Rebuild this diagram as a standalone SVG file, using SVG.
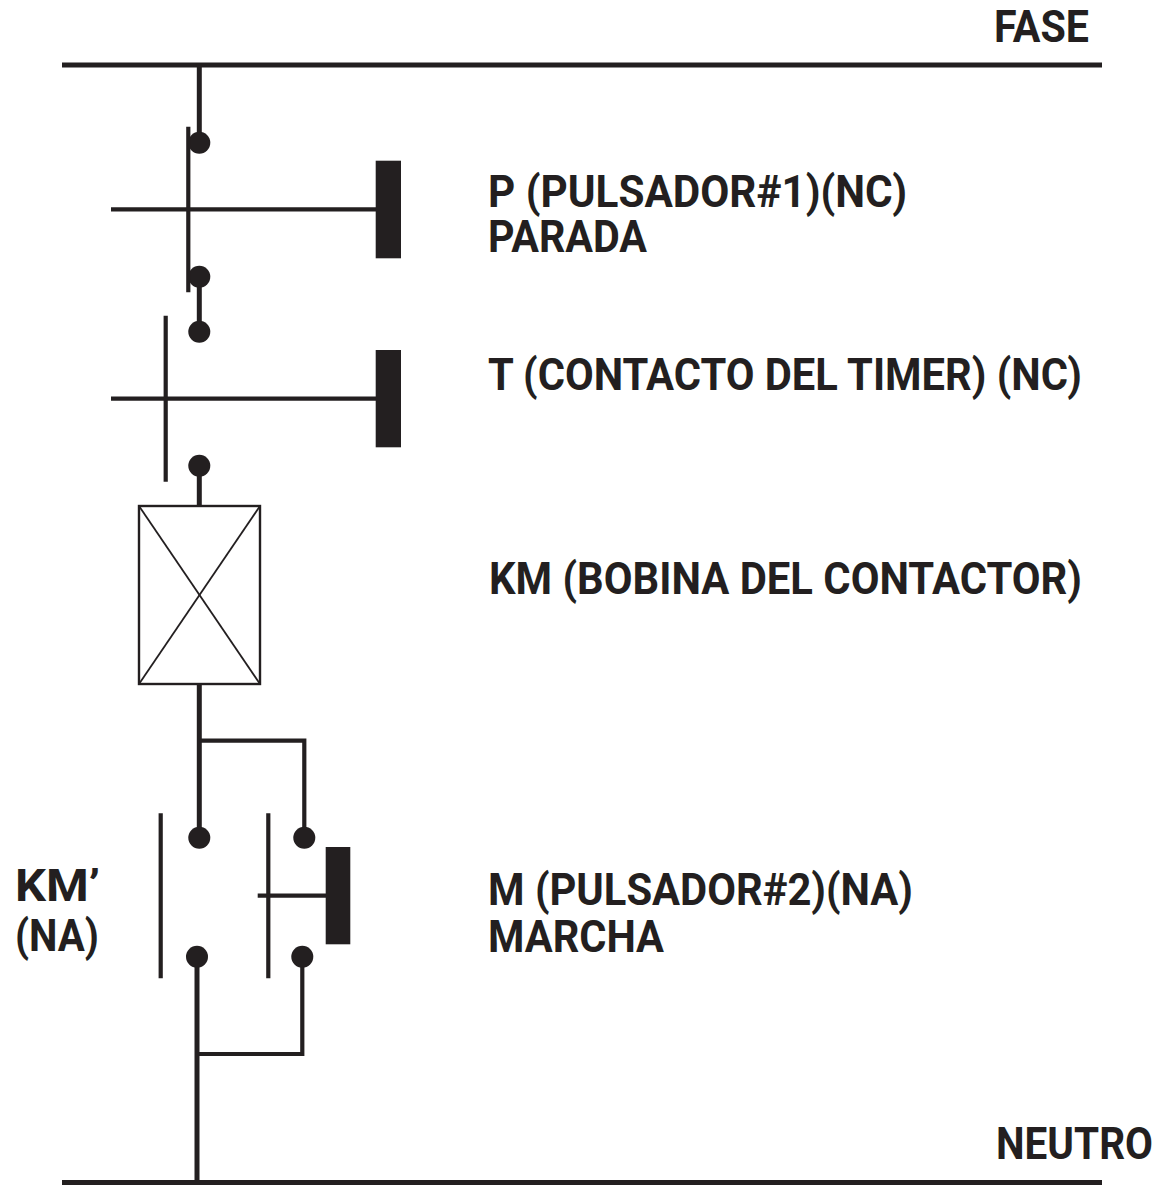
<svg xmlns="http://www.w3.org/2000/svg" width="1164" height="1185" viewBox="0 0 1164 1185">
<style>
.w{stroke:#231f20;stroke-width:5;fill:none;stroke-linecap:butt}
.t{stroke:#231f20;stroke-width:4.2;fill:none}
.d{fill:#231f20}
.lbl{font-family:Roboto,"Liberation Sans",sans-serif;font-weight:bold;font-size:44px;fill:#231f20}
</style>
<rect width="1164" height="1185" fill="#fff"/>
<g id="fase">
<line class="w" x1="62" y1="65" x2="1102" y2="65"/>
<text class="lbl" x="994" y="42" textLength="95" lengthAdjust="spacingAndGlyphs">FASE</text>
</g>
<g id="neutro">
<line class="w" x1="62" y1="1182.5" x2="1102" y2="1182.5"/>
<text class="lbl" x="996" y="1159" textLength="157" lengthAdjust="spacingAndGlyphs">NEUTRO</text>
</g>
<g id="connectors">
<line class="w" x1="199.3" y1="63" x2="199.3" y2="143"/>
<line class="w" x1="199.3" y1="277" x2="199.3" y2="332"/>
<line class="w" x1="199.3" y1="466" x2="199.3" y2="507"/>
<line class="w" x1="199.3" y1="683" x2="199.3" y2="838"/>
<polyline class="t" points="199.3,740.7 304.3,740.7 304.3,838"/>
<line class="w" x1="197" y1="957" x2="197" y2="1181"/>
<polyline class="t" points="197,1054 302.3,1054 302.3,957"/>
</g>
<g id="P">
<circle class="d" cx="199.3" cy="142.7" r="11"/>
<circle class="d" cx="199.3" cy="276.7" r="11"/>
<line class="t" x1="188.3" y1="126.7" x2="188.3" y2="292.3" stroke-width="4.7"/>
<line class="t" x1="111" y1="209.3" x2="377" y2="209.3"/>
<rect class="d" x="375.7" y="160.7" width="25.3" height="97.6"/>
<text class="lbl" x="488" y="207" textLength="419" lengthAdjust="spacingAndGlyphs">P (PULSADOR#1)(NC)</text>
<text class="lbl" x="488" y="252" textLength="159" lengthAdjust="spacingAndGlyphs">PARADA</text>
</g>
<g id="T">
<circle class="d" cx="199.3" cy="331.7" r="11"/>
<circle class="d" cx="199.3" cy="465.7" r="11"/>
<line class="t" x1="165.7" y1="315.7" x2="165.7" y2="481.7" stroke-width="4.7"/>
<line class="t" x1="111" y1="398.7" x2="377" y2="398.7"/>
<rect class="d" x="375.7" y="350" width="25.3" height="97.3"/>
<text class="lbl" x="488" y="390" textLength="594" lengthAdjust="spacingAndGlyphs">T (CONTACTO DEL TIMER) (NC)</text>
</g>
<g id="KM">
<rect x="139" y="506" width="121" height="178" fill="none" stroke="#231f20" stroke-width="2.4"/>
<line x1="139" y1="506" x2="260" y2="684" stroke="#231f20" stroke-width="1.8"/>
<line x1="260" y1="506" x2="139" y2="684" stroke="#231f20" stroke-width="1.8"/>
<text class="lbl" x="489" y="594" textLength="593" lengthAdjust="spacingAndGlyphs">KM (BOBINA DEL CONTACTOR)</text>
</g>
<g id="KMp">
<circle class="d" cx="199.3" cy="837.7" r="11"/>
<circle class="d" cx="197" cy="956.7" r="11"/>
<line class="t" x1="160.7" y1="813.3" x2="160.7" y2="978.3" stroke-width="4.7"/>
<text class="lbl" x="15" y="901" textLength="85" lengthAdjust="spacingAndGlyphs">KM’</text>
<text class="lbl" x="15" y="951" textLength="84" lengthAdjust="spacingAndGlyphs">(NA)</text>
</g>
<g id="M">
<circle class="d" cx="304.3" cy="837.7" r="11"/>
<circle class="d" cx="302.3" cy="956.7" r="11"/>
<line class="t" x1="268.3" y1="813.3" x2="268.3" y2="978.3" stroke-width="4.7"/>
<line class="t" x1="257.7" y1="895.7" x2="327" y2="895.7"/>
<rect class="d" x="325.7" y="847" width="24.6" height="97.3"/>
<text class="lbl" x="488" y="905" textLength="425" lengthAdjust="spacingAndGlyphs">M (PULSADOR#2)(NA)</text>
<text class="lbl" x="488" y="952" textLength="176" lengthAdjust="spacingAndGlyphs">MARCHA</text>
</g>
</svg>
